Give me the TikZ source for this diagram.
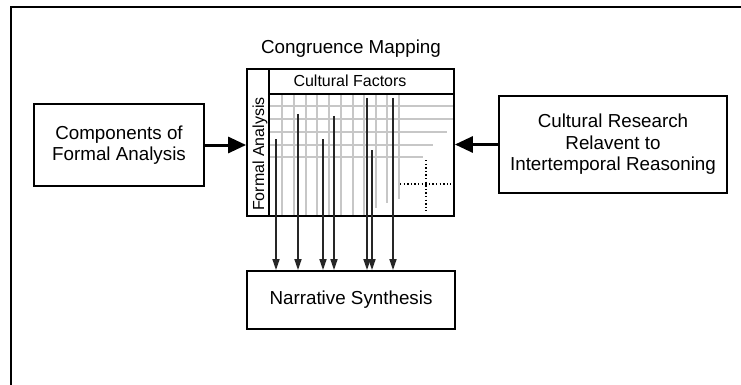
\documentclass[tikz,border=0pt]{standalone}
\usepackage{fontspec}
\setmainfont{Liberation Sans}
\usetikzlibrary{arrows.meta}
\begin{document}
\begin{tikzpicture}[x=1pt,y=-1pt,
  box/.style={draw=black,line width=1.8pt,fill=none,inner sep=0pt,font=\fontsize{18.8}{21.5}\selectfont,align=center},
  bigarrow/.style={line width=3pt,-{Triangle[length=18pt,width=16pt]}},
  thinarrow/.style={line width=1.6pt,draw=black!85,-{Triangle[length=11pt,width=7pt]}},
  gridline/.style={draw=black!22,line width=1.4pt},
  dotline/.style={line width=1.4pt,dash pattern=on 1.4pt off 2.2pt},
  small/.style={font=\fontsize{16}{19}\selectfont,inner sep=0pt}]
\useasboundingbox (0,0) rectangle (741,385);
\fill[white] (0,0) rectangle (741,385);
% outer frame
\draw[line width=2pt] (10.5,385) -- (10.5,7.5) -- (741,7.5);
% grid of congruence matrix
\foreach \x in {282,294,306,317,329,341,353,364}{\draw[gridline] (\x,94) -- (\x,216);}
\draw[gridline] (376,94) -- (376,208);
\draw[gridline] (387,94) -- (387,203);
\draw[gridline] (399,94) -- (399,199);
\draw[gridline] (269,106) -- (453,106);
\draw[gridline] (269,119) -- (453,119);
\draw[gridline] (269,132) -- (447,132);
\draw[gridline] (269,145) -- (433,145);
\draw[gridline] (269,157) -- (423,157);
\draw[dotline] (426,160) -- (426,211);
\draw[dotline] (400,184) -- (451,184);
% nodes
\node[box,minimum width=170pt,minimum height=82pt] (comp) at (119,145) {Components of\\Formal Analysis};
\node[box,minimum width=228pt,minimum height=97pt] (cult) at (613,144.5) {Cultural Research\\Relavent to\\Intertemporal Reasoning};
\node[box,minimum width=207pt,minimum height=147pt] (mat) at (350.5,142.5) {};
\node[box,minimum width=208pt,minimum height=58pt] (narr) at (351,300) {Narrative Synthesis};
\draw[line width=1.8pt] (269,69) -- (269,216);
\draw[line width=1.8pt] (269,94) -- (454,94);
\node[font=\fontsize{18.8}{21.5}\selectfont,anchor=base,inner sep=0pt] (title) at (351,54) {Congruence Mapping};
\node[small,anchor=base] (cf) at (350,87) {Cultural Factors};
\node[small,anchor=base,rotate=90] (fa) at (264,154) {Formal Analysis};
% input arrows
\draw[bigarrow] (comp.east) -- (comp.east -| mat.west);
\draw[bigarrow] (cult.west) -- (cult.west -| mat.east);
% mapping arrows
\coordinate (a1) at (276,139);
\coordinate (a2) at (298,114);
\coordinate (a3) at (323,139);
\coordinate (a4) at (334,116);
\coordinate (a5) at (367,98);
\coordinate (a6) at (372,150);
\coordinate (a7) at (393,98);
\foreach \a in {a1,a2,a3,a4,a5,a6,a7}{\draw[thinarrow] (\a) -- (\a |- narr.north);}
\end{tikzpicture}
\end{document}
